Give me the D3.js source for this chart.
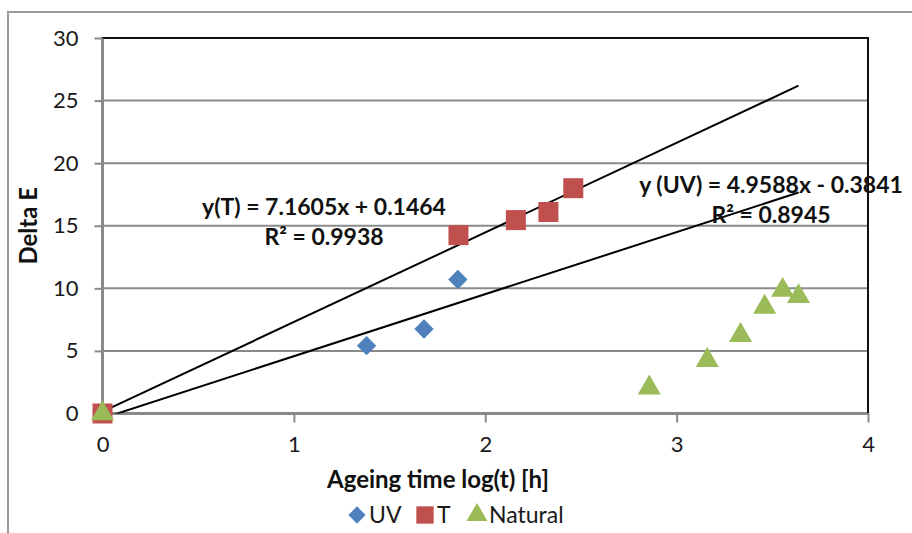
<!DOCTYPE html>
<html>
<head>
<meta charset="utf-8">
<script src="https://cdn.jsdelivr.net/npm/d3@7"></script>
<style>
  html, body { margin: 0; padding: 0; background: #fff; }
  svg { display: block; font-family: Lato, "Open Sans", sans-serif; }
  .tick text { font-size: 22px; fill: #1a1a1a; }
  .axis-title { font-size: 24px; font-weight: bold; fill: #111; }
  .eq { font-size: 23px; font-weight: bold; fill: #111; }
  .legend text { font-size: 23px; fill: #1a1a1a; }
</style>
</head>
<body>
<script>
/*
 * Delta E vs ageing time (log scale) for three ageing conditions,
 * with linear trendlines for the UV and T series.
 */

const WIDTH = 912;
const HEIGHT = 533;

// plot area edges (px)
const PLOT_LEFT = 102.5;
const PLOT_RIGHT = 868;
const PLOT_TOP = 38;
const PLOT_BOT = 413.5;

// data
const uvX = [0, 1.38, 1.68, 1.857];
const uvY = [0, 5.42, 6.75, 10.7];

const tX = [0, 1.86, 2.16, 2.33, 2.46];
const tY = [0, 14.25, 15.45, 16.1, 18.0];

const natX = [0, 2.857, 3.16, 3.334, 3.46, 3.554, 3.637];
const natY = [0, 2.05, 4.25, 6.25, 8.5, 9.85, 9.35];

// trendlines (slope, intercept) as printed on the chart
const uvFit = [4.9588, -0.3841];
const tFit = [7.1605, 0.1464];
const FIT_END = 3.637;

const xTicks = [0, 1, 2, 3, 4];
const yTicks = [0, 5, 10, 15, 20, 25, 30];

const BLUE = '#4f81bd';
const RED = '#c0504d';
const GREEN = '#9bbb59';
const GRID = '#8a8a8a';

const zip = (xs, ys) => xs.map((x, i) => ({ x, y: ys[i] }));

const xScale = d3.scaleLinear().domain([0, 4]).range([PLOT_LEFT, PLOT_RIGHT]);
const yScale = d3.scaleLinear().domain([0, 30]).range([PLOT_BOT, PLOT_TOP]);

const svg = d3.select('body')
  .append('svg')
    .attr('width', WIDTH)
    .attr('height', HEIGHT);

// outer chart frame (only top and left edges are inside the crop)
svg.append('path')
    .attr('d', `M8,${HEIGHT} V12 H${WIDTH}`)
    .attr('fill', 'none')
    .attr('stroke', '#9a9a9a')
    .attr('stroke-width', 2);

svg.append('clipPath')
    .attr('id', 'plot-clip')
  .append('rect')
    .attr('x', PLOT_LEFT)
    .attr('y', PLOT_TOP)
    .attr('width', PLOT_RIGHT - PLOT_LEFT)
    .attr('height', PLOT_BOT - PLOT_TOP);

// horizontal gridlines
svg.append('g')
  .selectAll('line')
  .data(yTicks.slice(1, -1))
  .enter()
  .append('line')
    .attr('x1', PLOT_LEFT)
    .attr('x2', PLOT_RIGHT)
    .attr('y1', d => yScale(d))
    .attr('y2', d => yScale(d))
    .attr('stroke', GRID)
    .attr('stroke-width', 2);

// plot area border
svg.append('rect')
    .attr('x', PLOT_LEFT)
    .attr('y', PLOT_TOP)
    .attr('width', PLOT_RIGHT - PLOT_LEFT)
    .attr('height', PLOT_BOT - PLOT_TOP)
    .attr('fill', 'none')
    .attr('stroke', '#111')
    .attr('stroke-width', 2);

// axes
const xAxis = d3.axisBottom(xScale)
    .tickValues(xTicks)
    .tickFormat(d3.format('d'))
    .tickSize(9)
    .tickSizeOuter(0)
    .tickPadding(14);

const yAxis = d3.axisLeft(yScale)
    .tickValues(yTicks)
    .tickSize(8)
    .tickSizeOuter(0)
    .tickPadding(16);

const styleAxis = g => {
  g.select('.domain').attr('stroke', GRID).attr('stroke-width', 2);
  g.selectAll('.tick line').attr('stroke', GRID).attr('stroke-width', 2);
  g.attr('font-family', null).attr('font-size', null);
};

svg.append('g')
    .attr('transform', `translate(0, ${PLOT_BOT})`)
    .call(xAxis)
    .call(styleAxis);

svg.append('g')
    .attr('transform', `translate(${PLOT_LEFT}, 0)`)
    .call(yAxis)
    .call(styleAxis);

// axis titles
svg.append('text')
    .attr('class', 'axis-title')
    .attr('x', 438)
    .attr('y', 488)
    .attr('text-anchor', 'middle')
    .text('Ageing time log(t) [h]');

svg.append('text')
    .attr('class', 'axis-title')
    .attr('transform', `translate(37, ${(PLOT_TOP + PLOT_BOT) / 2}) rotate(-90)`)
    .attr('text-anchor', 'middle')
    .text('Delta E');

// trendlines
const fitLine = fit => [
  { x: 0, y: fit[1] },
  { x: FIT_END, y: fit[0] * FIT_END + fit[1] }
];

const line = d3.line().x(d => xScale(d.x)).y(d => yScale(d.y));

svg.append('g')
    .attr('clip-path', 'url(#plot-clip)')
  .selectAll('path')
  .data([fitLine(tFit), fitLine(uvFit)])
  .enter()
  .append('path')
    .attr('d', line)
    .attr('fill', 'none')
    .attr('stroke', '#000')
    .attr('stroke-width', 2);

// markers
const diamond = d3.symbol().type(d3.symbolDiamond2);
const square = d3.symbol().type(d3.symbolSquare);
const triangle = d3.symbol().type(d3.symbolTriangle);

const addSeries = (data, symbol, size, color) => {
  svg.append('g')
    .selectAll('path')
    .data(data)
    .enter()
    .append('path')
      .attr('transform', d => `translate(${xScale(d.x)}, ${yScale(d.y)})`)
      .attr('d', symbol.size(size))
      .attr('fill', color);
};

addSeries(zip(uvX, uvY), diamond, 240, BLUE);
addSeries(zip(tX, tY), square, 400, RED);
addSeries(zip(natX, natY), triangle, 230, GREEN);

// trendline equations
const addEquation = (x, y, lines) => {
  const t = svg.append('text')
      .attr('class', 'eq')
      .attr('text-anchor', 'middle');
  lines.forEach((l, i) => {
    t.append('tspan')
        .attr('x', x)
        .attr('y', y + i * 30)
        .text(l);
  });
};

addEquation(324, 215, ['y(T) = 7.1605x + 0.1464', 'R\u00B2 = 0.9938']);
addEquation(771, 193, ['y (UV) = 4.9588x - 0.3841', 'R\u00B2 = 0.8945']);

// legend
const legendItems = [
  { name: 'UV', symbol: diamond, size: 190, color: BLUE, x: 357 },
  { name: 'T', symbol: square, size: 300, color: RED, x: 425 },
  { name: 'Natural', symbol: triangle, size: 190, color: GREEN, x: 477 }
];

const legend = svg.append('g')
    .attr('class', 'legend')
  .selectAll('g')
  .data(legendItems)
  .enter()
  .append('g')
    .attr('transform', d => `translate(${d.x}, 515)`);

legend.append('path')
    .attr('d', d => d.symbol.size(d.size)())
    .attr('fill', d => d.color);

legend.append('text')
    .attr('x', 12)
    .attr('y', 8)
    .text(d => d.name);
</script>
</body>
</html>
